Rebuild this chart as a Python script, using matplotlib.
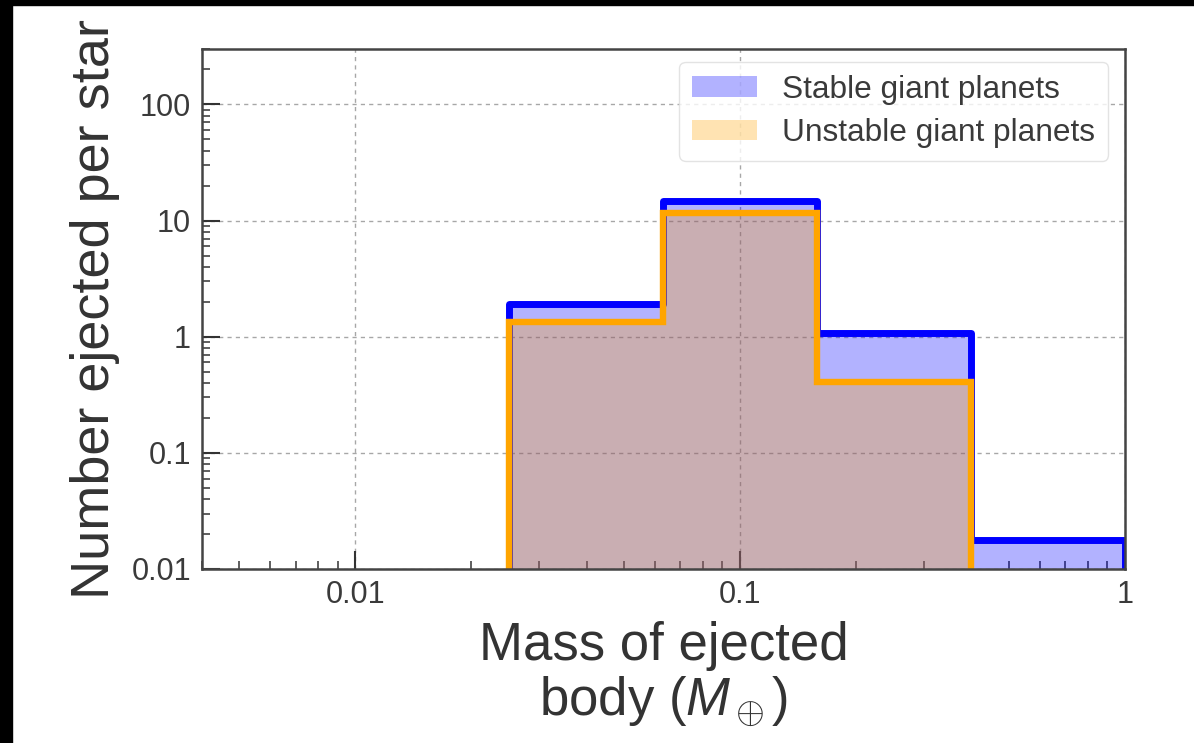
import matplotlib
matplotlib.use("Agg")
import matplotlib.pyplot as plt
from matplotlib.patches import Rectangle

# ── data ─────────────────────────────────────────────────────────────────────
mass_bin_edges = [0.0251, 0.0631, 0.1585, 0.3981, 1.0]      # Earth masses
stable_per_star = [1.9, 14.6, 1.08, 0.0177]
unstable_per_star = [1.35, 11.7, 0.41, 0.0]
x_ticks = [0.01, 0.1, 1]
x_tick_labels = ["0.01", "0.1", "1"]
y_ticks = [0.01, 0.1, 1, 10, 100]
y_tick_labels = ["0.01", "0.1", "1", "10", "100"]

plt.rcParams.update({
    "font.family": ["Liberation Sans", "DejaVu Sans"],
    "mathtext.fontset": "custom",
    "mathtext.rm": "Liberation Sans",
    "mathtext.it": "Liberation Sans:italic",
    "text.color": "#333333",
    "axes.labelcolor": "#333333",
})

fig = plt.figure(figsize=(11.94, 7.43), dpi=100)
ax = fig.add_axes([0.1692, 0.2342, 0.9422 - 0.1692, 0.934 - 0.2342])
ax.set_yscale("log")
ax.set_xscale("log")

centers = mass_bin_edges[:-1]
ax.hist(centers, bins=mass_bin_edges, weights=stable_per_star,
        histtype="stepfilled", color="blue", alpha=0.3,
        label="Stable giant planets", zorder=2)
ax.hist(centers, bins=mass_bin_edges, weights=stable_per_star,
        histtype="step", color="blue", lw=5.0, joinstyle="round", zorder=3)
ax.hist(centers, bins=mass_bin_edges, weights=unstable_per_star,
        histtype="stepfilled", color="orange", alpha=0.3,
        label="Unstable giant planets", zorder=4)
ax.hist(centers, bins=mass_bin_edges, weights=unstable_per_star,
        histtype="step", color="orange", lw=4.6, zorder=5)

ax.set_xlim(0.004, 1)
ax.set_ylim(0.01, 300)
ax.set_xticks(x_ticks, x_tick_labels)
ax.set_yticks(y_ticks, y_tick_labels)

ax.grid(True, which="major", ls=(0, (3, 3)), color="#8a8a8a", lw=1.0,
        alpha=0.75, zorder=6)
ax.tick_params(which="both", direction="in", colors="#333333",
               labelsize=22, labelcolor="#3a3a3a", top=False, right=False)
ax.tick_params(which="major", length=13, width=1.5, pad=8)
ax.tick_params(which="minor", length=6, width=1.1)
for s in ax.spines.values():
    s.set_color("#444444")
    s.set_linewidth(1.8)
    s.set_zorder(7)

ax.set_ylabel("Number ejected per star", fontsize=39, labelpad=8)
ax.set_xlabel("Mass of ejected\n" + r"body ($M_\oplus$)", fontsize=38,
              linespacing=1.08, labelpad=8)

leg = ax.legend(loc="upper right", fontsize=22.8, frameon=True, fancybox=True,
                handlelength=2.05, handleheight=0.63, borderpad=0.4,
                labelspacing=0.42, handletextpad=0.8, borderaxespad=0,
                bbox_to_anchor=(0.9816, 0.975))
leg.set_zorder(8)
leg.get_frame().set_edgecolor("#dddddd")
leg.get_frame().set_linewidth(1.0)
for t in leg.get_texts():
    t.set_color("#3a3a3a")

# black strips along the top and left edges of the reference image
fig.add_artist(Rectangle((0, 0), 12 / 1194, 1, transform=fig.transFigure,
                         color="black", zorder=10))
fig.add_artist(Rectangle((0, 1 - 5 / 743), 1, 5 / 743, transform=fig.transFigure,
                         color="black", zorder=10))

fig.savefig("out.png", dpi=100)
